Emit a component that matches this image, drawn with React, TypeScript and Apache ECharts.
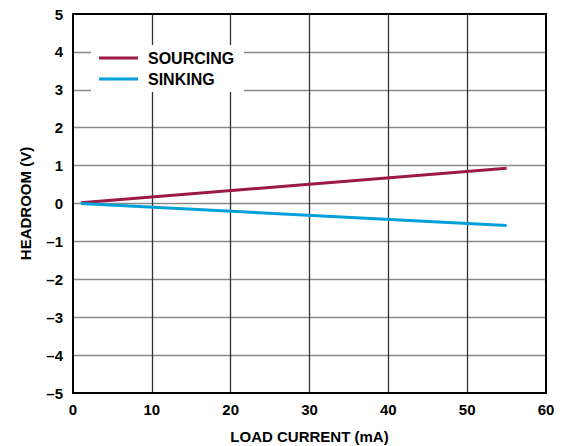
import React, { useEffect, useRef } from "react";
import * as echarts from "echarts";

const loadCurrent = [1, 55];
const sourcing = [0.02, 0.93];
const sinking = [0.0, -0.58];
const seriesNames = ["SOURCING", "SINKING"];
const yTickLabels: Record<string, string> = {
  "5": "5", "4": "4", "3": "3", "2": "2", "1": "1", "0": "0",
  "-1": "–1", "-2": "–2", "-3": "–3", "-4": "–4", "-5": "–5",
};

export default function App() {
  const ref = useRef<HTMLDivElement>(null);
  useEffect(() => {
    const chart = echarts.init(ref.current!, null, { renderer: "svg" });
    const font = "'Liberation Sans', Arial, sans-serif";
    chart.setOption({
      animation: false,
      backgroundColor: "#fff",
      grid: {
        left: 73, right: 18, top: 14, bottom: 53,
        outerBoundsMode: "none", containLabel: false,
        show: true, borderColor: "#000", borderWidth: 2, z: 3,
      },
      xAxis: {
        type: "value", min: 0, max: 60, interval: 10,
        name: "LOAD CURRENT (mA)", nameLocation: "middle", nameGap: 36,
        nameTextStyle: { fontFamily: font, fontWeight: "bold", fontSize: 15, color: "#000" },
        axisLine: { show: false }, axisTick: { show: false },
        axisLabel: { fontFamily: font, fontWeight: "bold", fontSize: 15, color: "#000", margin: 9 },
        splitLine: { show: true, showMinLine: false, showMaxLine: false, lineStyle: { color: "#333", width: 1.3 } },
      },
      yAxis: {
        type: "value", min: -5, max: 5, interval: 1,
        name: "HEADROOM (V)", nameLocation: "middle", nameGap: 40, nameRotate: 90,
        nameTextStyle: { fontFamily: font, fontWeight: "bold", fontSize: 15, color: "#000" },
        axisLine: { show: false }, axisTick: { show: false },
        axisLabel: {
          fontFamily: font, fontWeight: "bold", fontSize: 15, color: "#000", margin: 10,
          formatter: (v: number) => yTickLabels[String(v)] ?? String(v),
        },
        splitLine: { show: true, showMinLine: false, showMaxLine: false, lineStyle: { color: "#8a8a8a", width: 1.3 } },
      },
      legend: {
        orient: "vertical", left: 99, top: 50, padding: 0, itemWidth: 39, itemHeight: 3, itemGap: 5,
        icon: "rect", z: 20,
        textStyle: { fontFamily: font, fontWeight: "bold", fontSize: 16, color: "#000", padding: [0, 0, 0, 5] },
        data: seriesNames,
      },
      graphic: [
        { type: "rect", z: 10, shape: { x: 91, y: 45, width: 153, height: 47 }, style: { fill: "#fff" } },
      ],
      series: [
        {
          name: seriesNames[0], type: "line", showSymbol: false, z: 5,
          data: loadCurrent.map((x, i) => [x, sourcing[i]]),
          lineStyle: { color: "#9c1a45", width: 3 }, itemStyle: { color: "#9c1a45" },
        },
        {
          name: seriesNames[1], type: "line", showSymbol: false, z: 5,
          data: loadCurrent.map((x, i) => [x, sinking[i]]),
          lineStyle: { color: "#00a0d8", width: 3 }, itemStyle: { color: "#00a0d8" },
        },
      ],
    });
    return () => chart.dispose();
  }, []);
  return <div ref={ref} style={{ width: 564, height: 446, position: "absolute", left: 0, top: 0 }} />;
}
